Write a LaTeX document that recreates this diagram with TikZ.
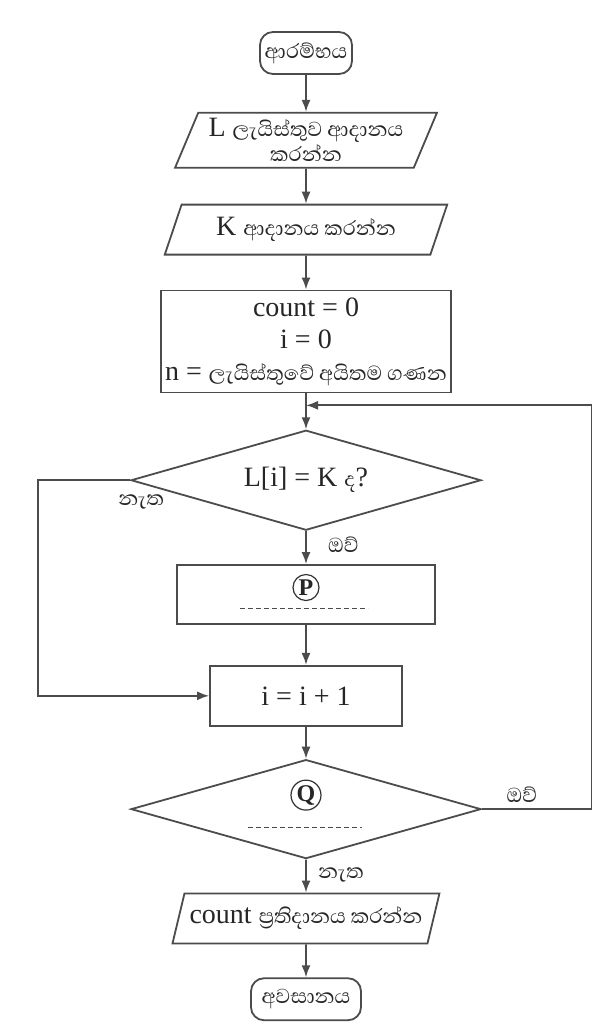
\documentclass[tikz,border=0pt]{standalone}
\usepackage{fontspec}
\setmainfont{Liberation Serif}
\newfontfamily\sinhfont[Script=Sinhala]{Abhaya Libre}
\usetikzlibrary{arrows.meta,positioning,shapes.geometric}
\newcommand{\si}[1]{{\sinhfont\fontsize{26}{27}\selectfont #1}}

\begin{document}
\begin{tikzpicture}[
  x=1pt, y=1pt,
  every node/.style={text=black!85, font=\fontsize{28}{30}\selectfont},
  term/.style={draw=black!70, line width=1.8pt, rounded corners=13pt, minimum width=92pt, minimum height=42pt, inner sep=2pt},
  io/.style={draw=black!70, line width=1.8pt, trapezium, trapezium left angle=65, trapezium right angle=115, trapezium stretches=true, align=center, inner sep=1pt},
  box/.style={draw=black!70, line width=1.8pt, align=center, inner sep=2pt},
  decision/.style={draw=black!70, line width=1.8pt, diamond, aspect=3.5, inner sep=0pt, minimum width=350pt, minimum height=100pt},
  ringmark/.style={draw=black!80, line width=1.2pt, circle, inner sep=1pt, minimum size=26pt, font=\fontsize{24}{24}\selectfont\bfseries},
  blank/.style={draw=black!70, line width=1.2pt, dash pattern=on 5pt off 3pt},
  arrow/.style={-{Latex[length=12pt,width=9pt]}, line width=1.8pt, draw=black!70},
  lbl/.style={inner sep=0pt}
]
\useasboundingbox (0,0) rectangle (592,-1026);
\fill[white] (0,0) rectangle (592,-1026);

\node[term] (start) at (306,-53) {\si{ආරම්භය}};
\node[io, below=37pt of start, minimum width=262pt, minimum height=55pt, font=\fontsize{28}{25}\selectfont] (readL) {L \si{ලැයිස්තුව ආදානය}\\\si{කරන්න}};
\node[io, below=35pt of readL, minimum width=283pt, minimum height=50pt] (readK) {K \si{ආදානය කරන්න}};
\node[box, below=34pt of readK, minimum width=290pt, minimum height=102pt, font=\fontsize{28}{32}\selectfont] (init) {count = 0\\i = 0\\n = \si{ලැයිස්තුවේ අයිතම ගණන}};
\coordinate[below=12pt of init] (join);
\node[decision, below=36pt of init] (test) {\raisebox{3pt}{L[i] = K \si{ද}?}};
\node[box, below=33pt of test, minimum width=258pt, minimum height=59pt] (pbox) {};
\node[box, below=40pt of pbox, minimum width=192pt, minimum height=60pt] (inc) {i = i + 1};
\node[decision, below=32pt of inc, minimum height=99pt] (qtest) {};
\node[io, below=33pt of qtest, minimum width=268pt, minimum height=50pt] (outc) {count \si{ප්‍රතිදානය කරන්න}};
\node[term, below=33pt of outc, minimum width=110pt] (stop) {\si{අවසානය}};

% blanks to be filled in
\node[ringmark] (pmark) at ([yshift=7pt]pbox.center) {P};
\draw[blank] ([xshift=-66pt,yshift=-14pt]pbox.center) -- ++(128pt,0);
\node[ringmark] (qmark) at ([yshift=14pt]qtest.center) {Q};
\draw[blank] ([xshift=-58pt,yshift=-18pt]qtest.center) -- ++(114pt,0);

% flow
\draw[arrow] (start) -- (readL);
\draw[arrow] (readL) -- (readK);
\draw[arrow] (readK) -- (init);
\draw[arrow] (init) -- (test);
\draw[arrow] (test) -- (pbox);
\draw[arrow] (pbox) -- (inc);
\draw[arrow] (inc) -- (qtest);
\draw[arrow] (qtest) -- (outc);
\draw[arrow] (outc) -- (stop);
\draw[arrow] (test.west) -- ++(-92pt,0) |- (inc.west);
\draw[arrow] (qtest.east) -- ++(110pt,0) |- (join);

% labels
\node[lbl, anchor=north west] at ([xshift=-12pt,yshift=-14pt]test.west) {\si{නැත}};
\node[lbl, anchor=north west] at ([xshift=22pt,yshift=-6pt]test.south) {\si{ඔව්}};
\node[lbl, anchor=south] at ([xshift=40pt,yshift=6pt]qtest.east) {\si{ඔව්}};
\node[lbl, anchor=north west] at ([xshift=12pt,yshift=-8pt]qtest.south) {\si{නැත}};
\end{tikzpicture}
\end{document}
